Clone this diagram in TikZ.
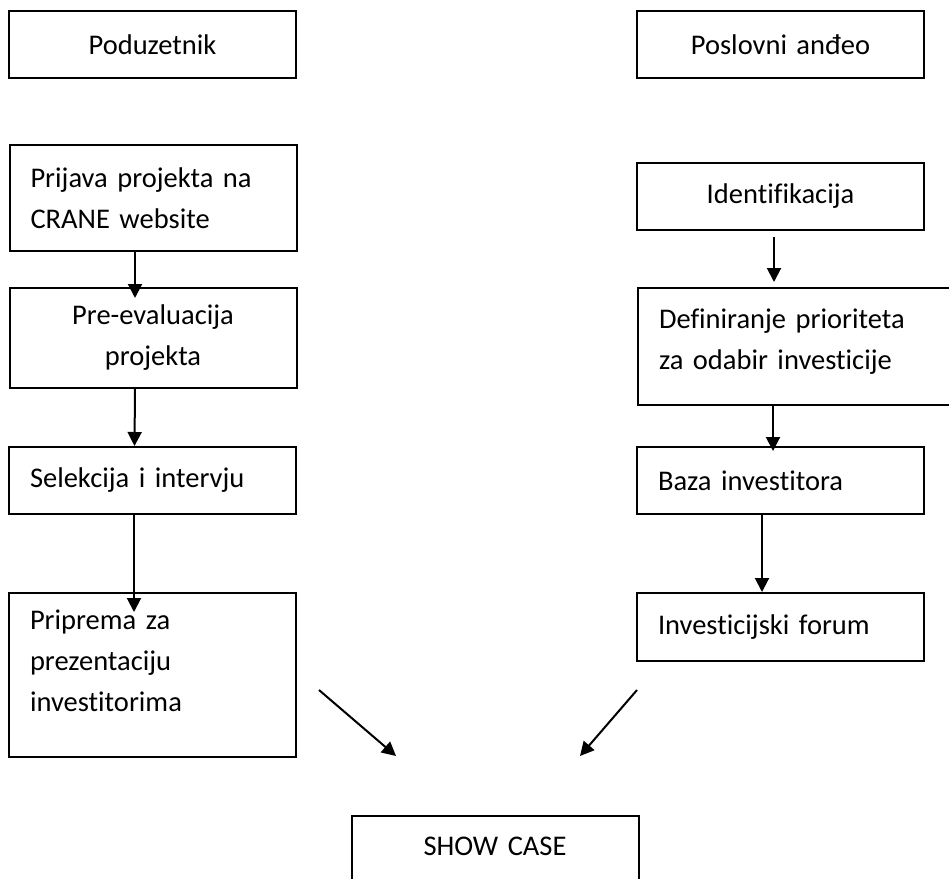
\documentclass[tikz,border=0pt]{standalone}
\usepackage{fontspec}
\setmainfont{Carlito}[Ligatures=NoCommon]
\usepackage{tikz}
\usetikzlibrary{arrows.meta,positioning}

\begin{document}
\begin{tikzpicture}[x=1pt,y=-1pt,
  blok/.style={draw=black, line width=2pt, rectangle, minimum width=287pt,
    inner xsep=21pt, inner ysep=0pt, text width=245pt,
    font=\fontsize{28.5}{41}\selectfont},
  lijevo/.style={blok, align=left},
  sredina/.style={blok, align=center},
  strelica/.style={draw=black, line width=2pt, -{Triangle[length=14pt,width=14pt]}}]
\useasboundingbox (0,0) rectangle (949,878);
\clip (0,0) rectangle (949,878);

% naslovi
\node[sredina, minimum height=67pt] (pod) at (152.5,44.5) {Poduzetnik};
\node[sredina, minimum height=67pt] (ang) at (780.5,44.5) {Poslovni anđeo};

% lijevi stupac
\node[lijevo, minimum height=106pt] (prij) at (153,198) {Prijava projekta na\\CRANE website};
\node[sredina, minimum height=100pt] (preev) at (153,338) {Pre-evaluacija\\projekta};
\node[lijevo, minimum height=67pt] (sel) at (152.5,480.5) {Selekcija i intervju};
\node[lijevo, minimum height=164pt, text depth=110pt] (prip) at (152.5,675) {Priprema za\\prezentaciju\\investitorima};

% desni stupac
\node[sredina, minimum height=67pt] (ident) at (780.5,196.5) {Identifikacija};
\node[lijevo, anchor=west, minimum width=340pt, text width=298pt, minimum height=117pt, text depth=56pt] (defin) at (637,346.5) {Definiranje prioriteta\\za odabir investicije};
\node[lijevo, minimum height=67pt] (baza) at (780.5,480.5) {Baza investitora};
\node[lijevo, minimum height=68pt] (forum) at (780.5,627) {Investicijski forum};

% zavrsni blok
\node[sredina, anchor=north, text height=39pt, text depth=40pt] (show) at (495,815) {SHOW CASE};

% strelice
\draw[strelica, shorten >=-11pt] ([xshift=-18pt]prij.south) -- ([xshift=-18pt]preev.north);
\draw[strelica] ([xshift=-18pt]preev.south) -- ([xshift=-18pt]sel.north);
\draw[strelica, shorten >=-20pt] ([xshift=-18.5pt]sel.south) -- ([xshift=-18.5pt]prip.north);

\draw[strelica, shorten <=6pt, shorten >=5pt] ([xshift=-6.5pt]ident.south) -- ([xshift=-6.5pt]ident.south |- defin.north);
\draw[strelica, shorten >=-5pt] ([xshift=-7.5pt]baza.north |- defin.south) -- ([xshift=-7.5pt]baza.north);
\draw[strelica] ([xshift=-18.5pt]baza.south) -- ([xshift=-18.5pt]forum.north);

\coordinate (lpoc) at (319,690);
\coordinate (lkraj) at (396,756);
\coordinate (dpoc) at (637,690);
\coordinate (dkraj) at (580,756);
\draw[strelica] (lpoc) -- (lkraj);
\draw[strelica] (dpoc) -- (dkraj);
\end{tikzpicture}
\end{document}
